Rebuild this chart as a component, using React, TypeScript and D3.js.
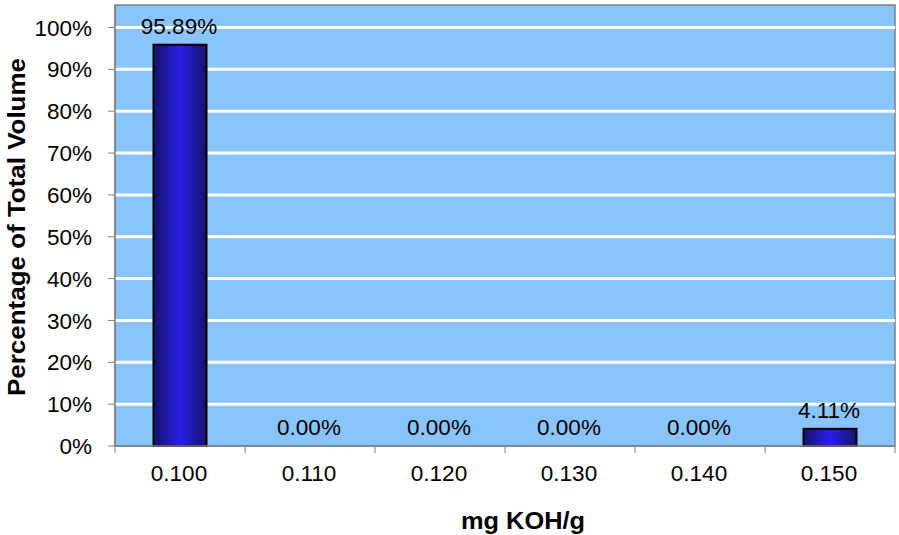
import React from "react";
import * as d3 from "d3";

const categories = ["0.100", "0.110", "0.120", "0.130", "0.140", "0.150"];
const values = [0.9589, 0, 0, 0, 0, 0.0411];
const yTicks = [0, 0.1, 0.2, 0.3, 0.4, 0.5, 0.6, 0.7, 0.8, 0.9, 1.0];

export default function App() {
  const W = 899, H = 535;
  const left = 115, right = 895, top = 5, bottom = 446;
  const x = d3.scaleBand<string>().domain(categories).range([left, right]).paddingInner(0).paddingOuter(0);
  const y = d3.scaleLinear().domain([0, 1]).range([bottom, 27.5]);
  const bw = 53;
  const font = "'Liberation Sans', Arial, sans-serif";
  const fmt = (v: number) => (v * 100).toFixed(2) + "%";
  const fs = 22.5;
  return (
    <svg width={W} height={H} style={{ position: "absolute", left: 0, top: 0 }} fontFamily={font}>
      <defs>
        <linearGradient id="barg" x1="0" x2="1" y1="0" y2="0">
          <stop offset="0" stopColor="#14146e" />
          <stop offset="0.5" stopColor="#2a1ee8" />
          <stop offset="1" stopColor="#14146e" />
        </linearGradient>
      </defs>
      <rect x={0} y={0} width={W} height={H} fill="#fff" />
      <rect x={left} y={top} width={right - left} height={bottom - top} fill="#8AC4FC" stroke="#808080" strokeWidth={1.5} />
      {yTicks.filter(t => t > 0).map(t => (
        <line key={t} x1={left} x2={right} y1={y(t)} y2={y(t)} stroke="#fff" strokeWidth={3} />
      ))}
      {categories.map((c, i) => (
        <rect key={c} x={x(c)! + x.bandwidth() / 2 - bw / 2} y={y(values[i])} width={bw}
          height={bottom - y(values[i])} fill="url(#barg)" stroke="#000" strokeWidth={2}
          style={{ display: values[i] > 0 ? undefined : "none" }} />
      ))}
      <line x1={left} x2={left} y1={top} y2={bottom} stroke="#808080" strokeWidth={1.5} />
      <line x1={left} x2={right} y1={bottom} y2={bottom} stroke="#808080" strokeWidth={1.5} />
      {yTicks.map(t => (
        <g key={t}>
          <line x1={left - 7} x2={left} y1={y(t)} y2={y(t)} stroke="#808080" strokeWidth={1} />
          <text x={92} y={y(t)} dy="0.36em" textAnchor="end" fontSize={fs} fill="#000">{Math.round(t * 100) + "%"}</text>
        </g>
      ))}
      {[...categories.map(c => x(c)!), right].map((px, i) => (
        <line key={i} x1={px} x2={px} y1={bottom} y2={bottom + 7} stroke="#808080" strokeWidth={1} />
      ))}
      {categories.map(c => (
        <text key={c} x={x(c)! + x.bandwidth() / 2 - 1} y={481} textAnchor="middle" fontSize={fs} fill="#000">{c}</text>
      ))}
      {categories.map((c, i) => (
        <text key={c} x={x(c)! + x.bandwidth() / 2 - 1} y={y(values[i]) - 11} textAnchor="middle" fontSize={fs} fill="#000">{fmt(values[i])}</text>
      ))}
      <text x={523} y={529} textAnchor="middle" fontSize={23} fontWeight="bold" fill="#000" textLength={124} lengthAdjust="spacingAndGlyphs">mg KOH/g</text>
      <text transform="translate(25,227) rotate(-90)" textAnchor="middle" fontSize={23} fontWeight="bold" fill="#000" textLength={338} lengthAdjust="spacingAndGlyphs">Percentage of Total Volume</text>
    </svg>
  );
}
